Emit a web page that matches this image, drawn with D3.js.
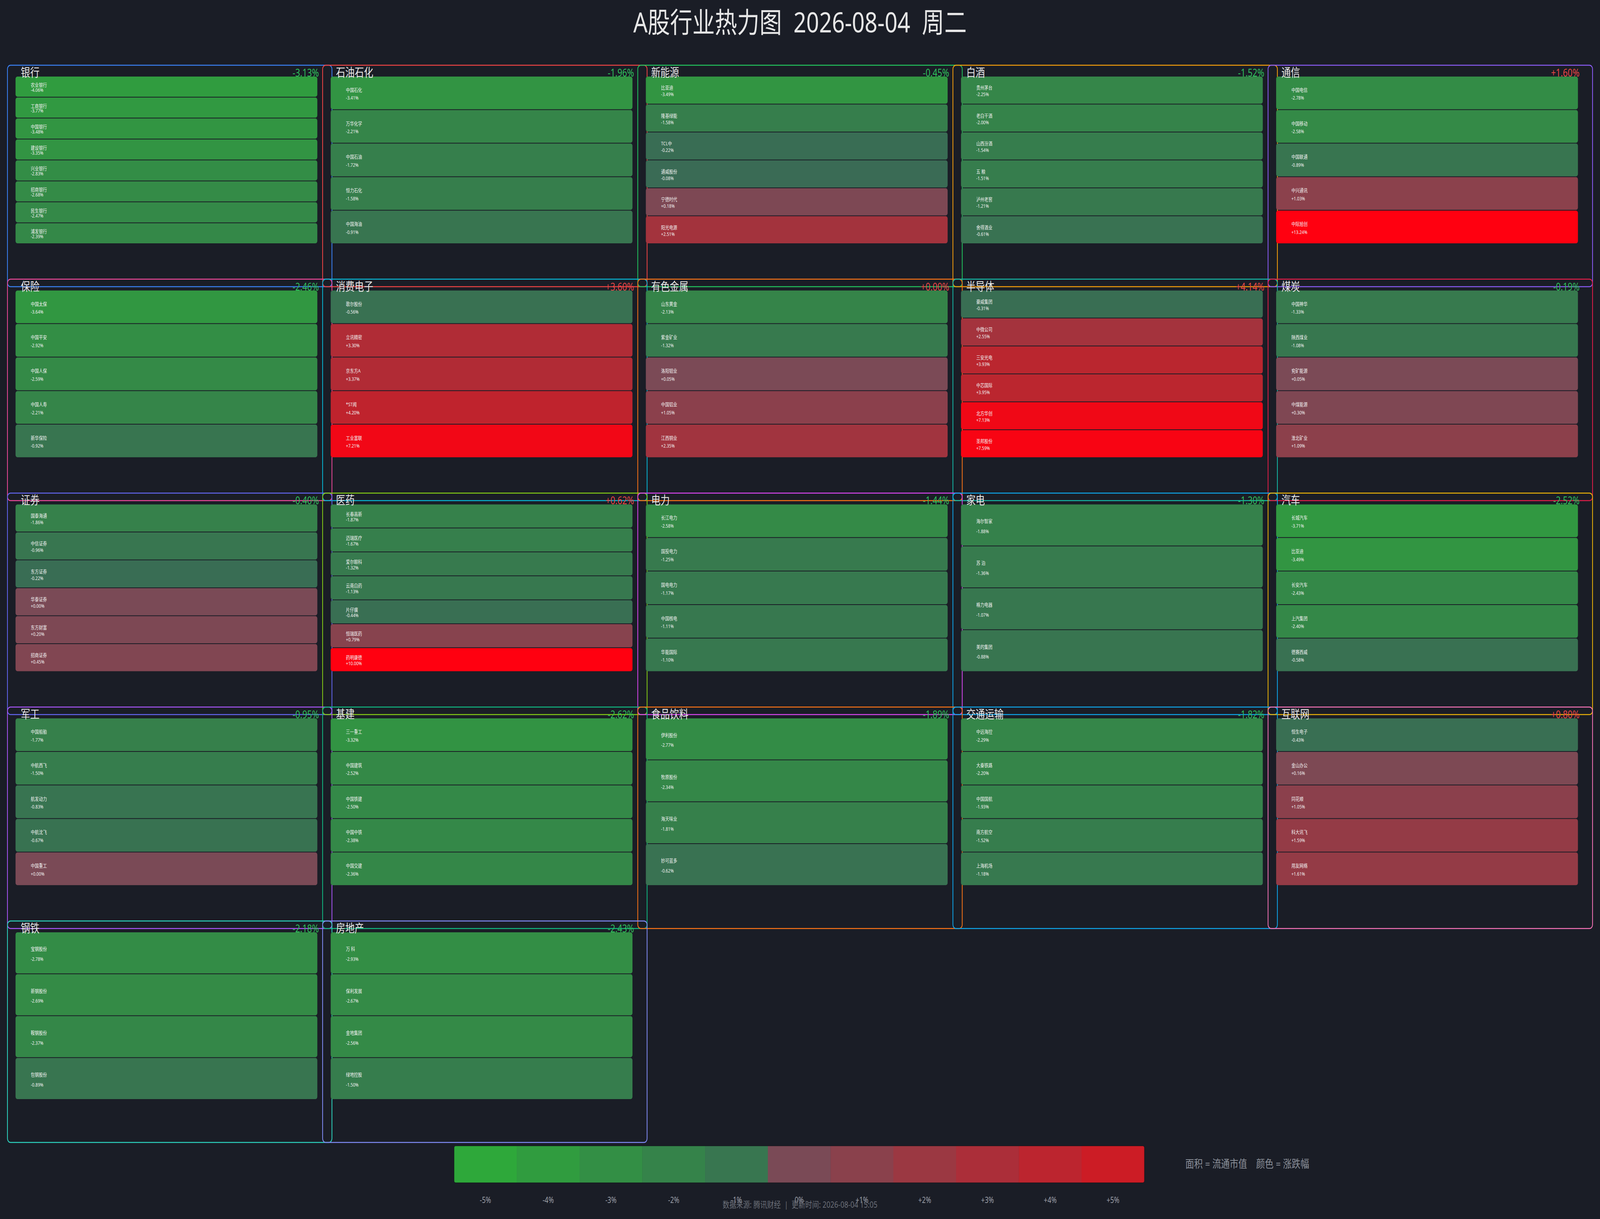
<!DOCTYPE html>
<html>
<head>
<meta charset="utf-8">
<script src="https://cdn.jsdelivr.net/npm/d3@7"></script>
<style>
  html, body { margin: 0; padding: 0; background: #1a1d26; overflow: hidden; width: 100%; height: 100%; }
  svg { display: block; width: 100vw; height: 100vh; }
  text { font-family: "Noto Sans", "Noto Sans CJK SC", sans-serif; white-space: pre; }
</style>
</head>
<body>
<svg id="chart" viewBox="0 0 5148 3121" preserveAspectRatio="none"></svg>
<script>
// ---------------- DATA ----------------
const sectors = ["银行","石油石化","新能源","白酒","通信",
                 "保险","消费电子","有色金属","半导体","煤炭",
                 "证券","医药","电力","家电","汽车",
                 "军工","基建","食品饮料","交通运输","互联网",
                 "钢铁","房地产"];
const sectorChanges = [-3.13,-1.96,-0.45,-1.52,1.60,
                       -2.46,3.60,0.00,4.14,-0.19,
                       -0.40,0.62,-1.44,-1.30,-2.52,
                       -0.95,-2.62,-1.89,-1.82,0.80,
                       -2.18,-2.43];
const sectorBorderColors = ["#3b82f6","#ef4444","#22c55e","#f59e0b","#8b5cf6",
                            "#ec4899","#06b6d4","#f97316","#14b8a6","#e11d48",
                            "#6366f1","#84cc16","#d946ef","#0ea5e9","#eab308",
                            "#a855f7","#10b981","#f97316","#0ea5e9","#f472b6",
                            "#2dd4bf","#818cf8"];
const stockNames = [
  ["农业银行","工商银行","中国银行","建设银行","兴业银行","招商银行","民生银行","浦发银行"],
  ["中国石化","万华化学","中国石油","恒力石化","中国海油"],
  ["比亚迪","隆基绿能","TCL中","通威股份","宁德时代","阳光电源"],
  ["贵州茅台","老白干酒","山西汾酒","五 粮","泸州老窖","舍得酒业"],
  ["中国电信","中国移动","中国联通","中兴通讯","中际旭创"],
  ["中国太保","中国平安","中国人保","中国人寿","新华保险"],
  ["歌尔股份","立讯精密","京东方A","*ST闻","工业富联"],
  ["山东黄金","紫金矿业","洛阳钼业","中国铝业","江西铜业"],
  ["豪威集团","中微公司","三安光电","中芯国际","北方华创","圣邦股份"],
  ["中国神华","陕西煤业","兖矿能源","中煤能源","淮北矿业"],
  ["国泰海通","中信证券","东方证券","华泰证券","东方财富","招商证券"],
  ["长春高新","迈瑞医疗","爱尔眼科","云南白药","片仔癀","恒瑞医药","药明康德"],
  ["长江电力","国投电力","国电电力","中国核电","华能国际"],
  ["海尔智家","苏 泊","格力电器","美的集团"],
  ["长城汽车","比亚迪","长安汽车","上汽集团","德赛西威"],
  ["中国船舶","中航西飞","航发动力","中航沈飞","中国重工"],
  ["三一重工","中国建筑","中国铁建","中国中铁","中国交建"],
  ["伊利股份","牧原股份","海天味业","妙可蓝多"],
  ["中远海控","大秦铁路","中国国航","南方航空","上海机场"],
  ["恒生电子","金山办公","同花顺","科大讯飞","用友网络"],
  ["宝钢股份","新钢股份","鞍钢股份","包钢股份"],
  ["万 科","保利发展","金地集团","绿地控股"]
];
const stockChanges = [
  [-4.06,-3.77,-3.48,-3.35,-2.83,-2.68,-2.47,-2.39],
  [-3.41,-2.21,-1.72,-1.58,-0.91],
  [-3.49,-1.58,-0.22,-0.08,0.18,2.51],
  [-2.25,-2.00,-1.54,-1.51,-1.21,-0.61],
  [-2.78,-2.58,-0.89,1.03,13.24],
  [-3.64,-2.92,-2.59,-2.21,-0.92],
  [-0.56,3.30,3.37,4.20,7.21],
  [-2.13,-1.32,0.05,1.05,2.35],
  [-0.31,2.55,3.93,3.95,7.13,7.59],
  [-1.33,-1.08,0.05,0.30,1.09],
  [-1.86,-0.96,-0.22,0.00,0.20,0.45],
  [-1.87,-1.67,-1.32,-1.13,-0.44,0.79,10.00],
  [-2.58,-1.25,-1.17,-1.11,-1.10],
  [-1.88,-1.36,-1.07,-0.88],
  [-3.71,-3.49,-2.43,-2.40,-0.58],
  [-1.77,-1.50,-0.83,-0.67,0.00],
  [-3.32,-2.52,-2.50,-2.38,-2.36],
  [-2.77,-2.34,-1.81,-0.62],
  [-2.29,-2.20,-1.93,-1.52,-1.18],
  [-0.43,0.16,1.05,1.59,1.61],
  [-2.78,-2.69,-2.37,-0.89],
  [-2.93,-2.67,-2.56,-1.50]
];
const legendTicks = [-5,-4,-3,-2,-1,0,1,2,3,4,5];
const legendTickLabels = ["-5%","-4%","-3%","-2%","-1%","0%","+1%","+2%","+3%","+4%","+5%"];
const titleText = "A股行业热力图  2026-08-04  周二";
const footerText = "数据来源: 腾讯财经  |  更新时间: 2026-08-04 15:05";
const legendNote = "面积 = 流通市值    颜色 = 涨跌幅";

// ---------------- DRAW ----------------
const W = 5148, H = 3121;
const svg = d3.select("#chart");
svg.append("rect").attr("width", W).attr("height", H).attr("fill", "#1a1d26");

const fmt = v => (v >= 0 ? "+" : "") + v.toFixed(2) + "%";
const negScale = d3.scaleLinear().domain([-5, 0]).range(["#2ea83a", "#3a6a55"]).clamp(true);
const posScale = d3.scaleLinear().domain([0, 5, 8]).range(["#7a4a56", "#cc1c25", "#ff0010"]).clamp(true);
const color = v => v < 0 ? negScale(v) : posScale(v);

const nCols = 5;
const colX = d3.scaleLinear().domain([0, 5]).range([24, 24 + 5 * 1014]);
const rowY = d3.scaleLinear().domain([0, 5]).range([167, 167 + 5 * 547.75]);
const boxW = 1044, boxH = 567;

// title
svg.append("text").attr("x", W / 2).attr("y", 83)
  .attr("text-anchor", "middle").attr("fill", "#e6e6e6")
  .attr("font-size", 72).text(titleText);

sectors.forEach((name, i) => {
  const c = i % nCols, r = Math.floor(i / nCols);
  const x0 = colX(c), y0 = rowY(r);
  const g = svg.append("g");

  g.append("rect").attr("x", x0).attr("y", y0)
    .attr("width", boxW).attr("height", boxH).attr("rx", 10)
    .attr("fill", "none").attr("stroke", sectorBorderColors[i]).attr("stroke-width", 2.5);

  const names = stockNames[i], vals = stockChanges[i];
  const yb = d3.scaleBand().domain(d3.range(names.length)).range([y0 + 28, y0 + 457]);
  const bx0 = x0 + 26, bw = 971;

  const bars = g.selectAll("g.bar").data(names.map((n, k) => ({ n, v: vals[k], k })))
    .join("g").attr("class", "bar");
  bars.append("rect")
    .attr("x", bx0).attr("y", d => yb(d.k) + 1)
    .attr("width", bw).attr("height", yb.bandwidth() - 2)
    .attr("rx", 6).attr("fill", d => color(d.v));
  bars.append("text")
    .attr("x", x0 + 75).attr("y", d => yb(d.k) + yb.bandwidth() * 0.4)
    .attr("dominant-baseline", "central").attr("fill", "#f2f2f2")
    .attr("font-size", 13).text(d => d.n);
  bars.append("text")
    .attr("x", x0 + 75).attr("y", d => yb(d.k) + yb.bandwidth() * 0.64)
    .attr("dominant-baseline", "central").attr("fill", "#f2f2f2")
    .attr("font-size", 13).text(d => fmt(d.v));

  g.append("text").attr("x", x0 + 43).attr("y", y0 + 29)
    .attr("fill", "#e8e8e8").attr("font-size", 30).text(name);
  g.append("text").attr("x", x0 + 1002).attr("y", y0 + 29)
    .attr("text-anchor", "end")
    .attr("fill", sectorChanges[i] < 0 ? "#2fbf5c" : "#e84545")
    .attr("font-size", 27).text(fmt(sectorChanges[i]));
});

// legend
const lx = d3.scaleBand().domain(legendTicks).range([1461, 3682]);
const ly = 2934, lh = 94;
const defs = svg.append("defs");
defs.append("clipPath").attr("id", "legclip").append("rect")
  .attr("x", 1461).attr("y", ly).attr("width", 3682 - 1461).attr("height", lh).attr("rx", 5);
const lg = svg.append("g").attr("clip-path", "url(#legclip)");
lg.selectAll("rect").data(legendTicks).join("rect")
  .attr("x", d => lx(d)).attr("y", ly)
  .attr("width", lx.bandwidth() + 0.5).attr("height", lh)
  .attr("fill", d => color(d));
svg.append("rect").attr("x", 1461).attr("y", ly).attr("width", 3682 - 1461).attr("height", lh)
  .attr("rx", 5).attr("fill", "none").attr("stroke", "rgba(0,0,0,0.25)").attr("stroke-width", 2);
svg.selectAll("text.tick").data(legendTicks).join("text").attr("class", "tick")
  .attr("x", d => lx(d) + lx.bandwidth() / 2).attr("y", 3080)
  .attr("text-anchor", "middle").attr("fill", "#9a9ea6").attr("font-size", 21)
  .text((d, k) => legendTickLabels[k]);

svg.append("text").attr("x", 3814).attr("y", 2990)
  .attr("fill", "#8a8f98").attr("font-size", 28).text(legendNote);

svg.append("text").attr("x", W / 2).attr("y", 3092)
  .attr("text-anchor", "middle").attr("fill", "#6b6f78").attr("font-size", 22)
  .text(footerText);
</script>
</body>
</html>
